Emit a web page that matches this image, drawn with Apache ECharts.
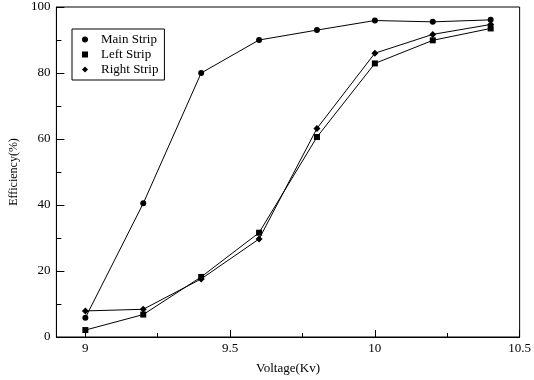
<!DOCTYPE html>
<html><head><meta charset="utf-8">
<script src="https://cdn.jsdelivr.net/npm/echarts@6/dist/echarts.min.js"></script>
<style>html,body{margin:0;padding:0;background:#fff}#c{width:534px;height:380px}</style>
</head><body><div id="c"></div>
<script>
var voltage = [9, 9.2, 9.4, 9.6, 9.8, 10, 10.2, 10.4];
var mainStrip = [5.8, 40.5, 80, 90, 93, 95.9, 95.5, 96.1];
var leftStrip = [2.1, 6.8, 18.2, 31.6, 60.6, 82.9, 89.9, 93.5];
var rightStrip = [7.9, 8.4, 17.6, 29.7, 63.2, 86, 91.7, 94.7];
var xMajor = [9, 9.5, 10, 10.5];
var xMinor = [9.25, 9.75, 10.25];

function pairs(ys){ return voltage.map(function(v,i){ return [v, ys[i]]; }); }
var font = 'Liberation Serif';
var chart = echarts.init(document.getElementById('c'), null, {renderer:'canvas'});
function ser(name, ys, sym, size){
  return {name:name, type:'line', data:pairs(ys), symbol:sym, symbolSize:size,
    showAllSymbol:true, lineStyle:{color:'#000', width:1}, itemStyle:{color:'#000'},
    emphasis:{disabled:true}, animation:false, z:3};
}
chart.setOption({
  animation:false,
  grid:{left:50, right:12, top:7, bottom:36, show:true, borderColor:'#000', borderWidth:1, containLabel:false},
  legend:{
    left:72, top:29, orient:'vertical', padding:[4,6,4,10], itemGap:2, itemWidth:6, itemHeight:6,
    borderColor:'#000', borderWidth:1, backgroundColor:'#fff',
    textStyle:{fontFamily:font, fontSize:13, color:'#000', padding:[0,0,0,8]},
    data:[{name:'Main Strip', icon:'circle'},{name:'Left Strip', icon:'rect'},{name:'Right Strip', icon:'diamond'}]
  },
  xAxis:[{
    type:'value', min:8.9, max:10.5, name:'Voltage(Kv)', nameLocation:'middle', nameGap:25,
    nameTextStyle:{fontFamily:font, fontSize:13, color:'#000'},
    axisLine:{lineStyle:{color:'#000', width:1}},
    axisTick:{inside:true, length:7, customValues:xMajor, lineStyle:{color:'#000'}},
    axisLabel:{customValues:xMajor, fontFamily:font, fontSize:13, color:'#000', margin:5},
    splitLine:{show:false}
  },{
    type:'value', min:8.9, max:10.5, position:'bottom', gridIndex:0,
    axisLine:{show:false},
    axisTick:{inside:true, length:4, customValues:xMinor, lineStyle:{color:'#000'}},
    axisLabel:{show:false, customValues:xMinor},
    splitLine:{show:false}
  }],
  yAxis:{
    type:'value', min:0, max:100, interval:20, name:'Efficiency(%)', nameLocation:'middle', nameGap:33,
    nameTextStyle:{fontFamily:font, fontSize:12, color:'#000'},
    axisLine:{lineStyle:{color:'#000', width:1}},
    axisTick:{inside:true, length:8, lineStyle:{color:'#000'}},
    minorTick:{show:true, splitNumber:2, length:5, lineStyle:{color:'#000'}},
    axisLabel:{fontFamily:font, fontSize:13, color:'#000', margin:6},
    splitLine:{show:false}, minorSplitLine:{show:false}
  },
  series:[
    ser('Main Strip', mainStrip, 'circle', 6),
    ser('Left Strip', leftStrip, 'rect', 6),
    ser('Right Strip', rightStrip, 'diamond', 7)
  ]
});
</script></body></html>
